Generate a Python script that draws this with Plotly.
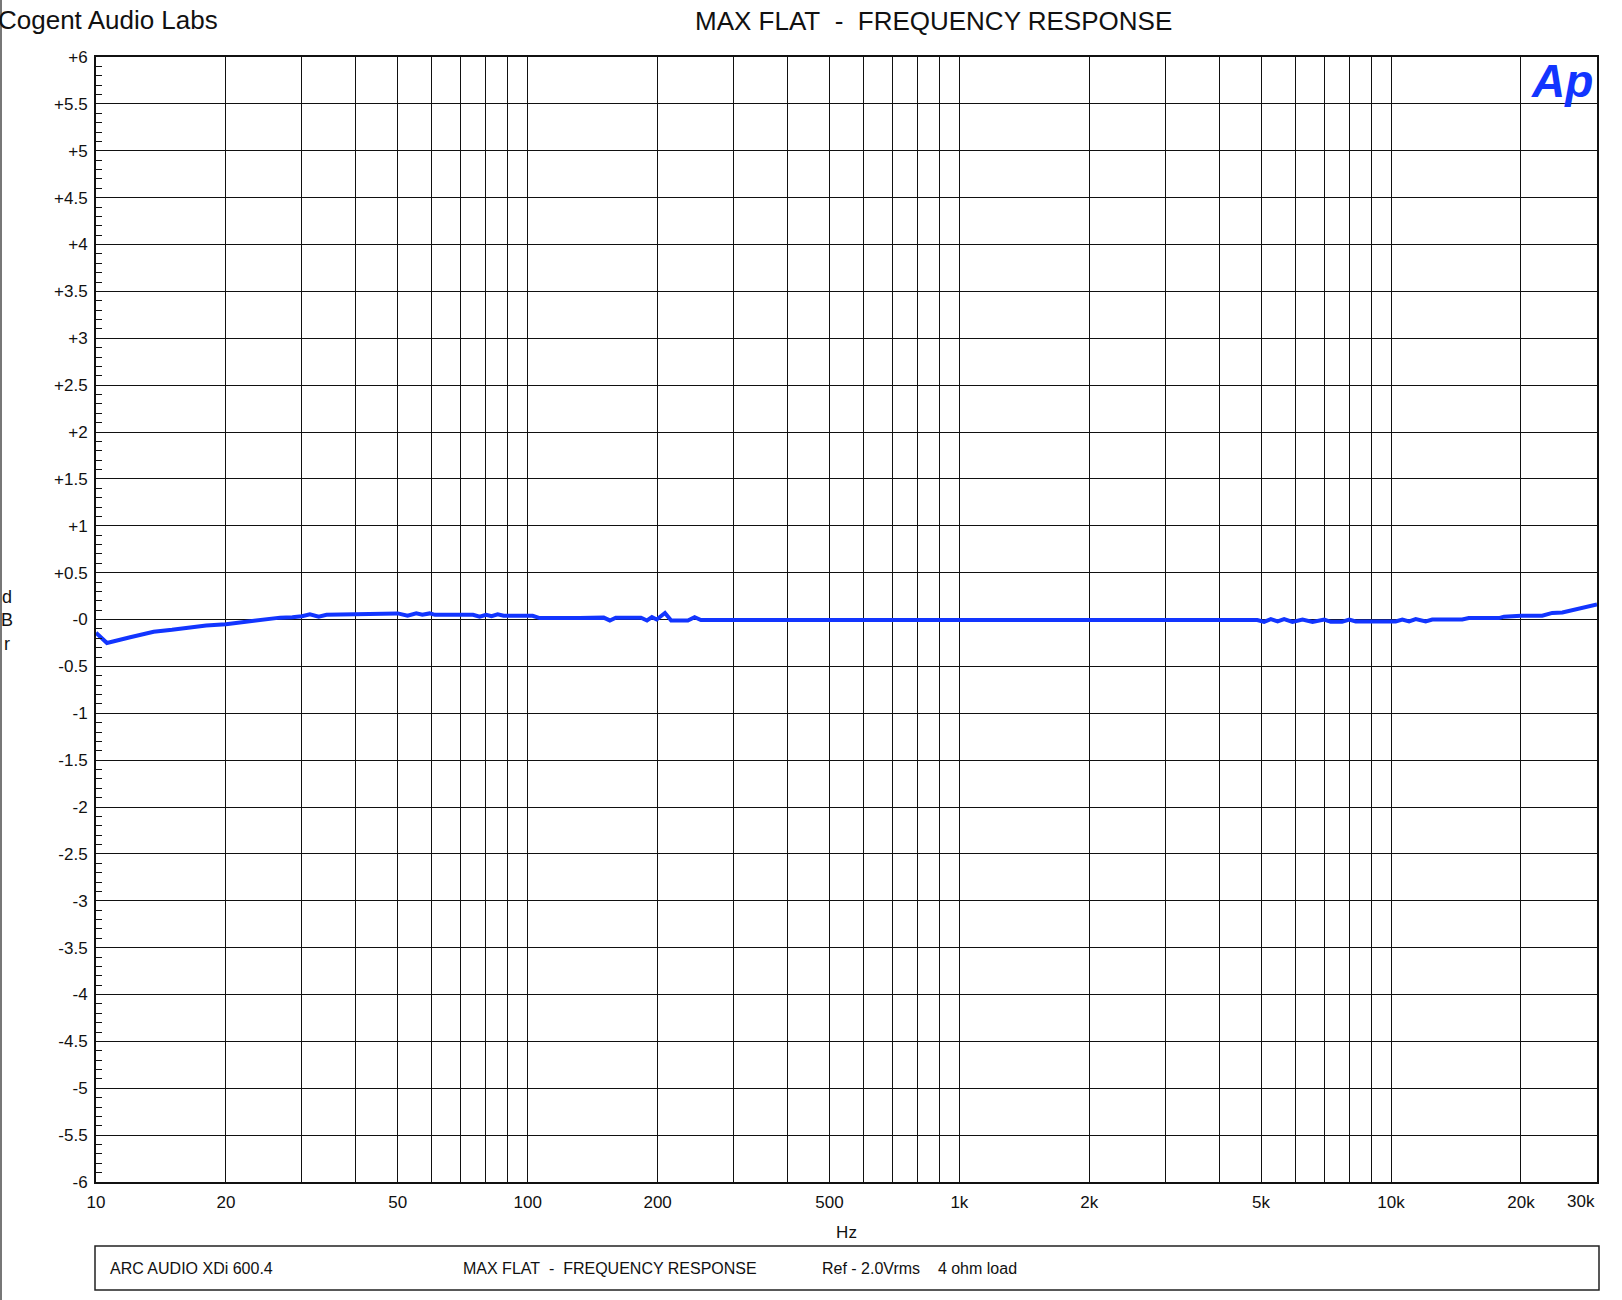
import math
import plotly.graph_objects as go

# ---- data ----
freq_hz = [10, 10.6, 12, 13.6, 15, 16.5, 18, 20, 21.5, 23.1, 25, 26.7, 28.5, 30, 31.3, 32.8,
           34.2, 38, 41.5, 46, 50, 52.7, 55.2, 57, 59.3, 61, 68, 74.7, 77.4, 80.1, 82.5, 85.2,
           88, 95, 102.7, 106.6, 118.6, 131.9, 150, 155, 160, 183, 189, 194, 199, 208, 215,
           235, 243.6, 252, 300, 500, 1000, 2000, 4900, 5080, 5266, 5460, 5654, 5912, 6237,
           6580, 7000, 7250, 7700, 8000, 8283, 9000, 10250, 10620, 11010, 11410, 12030, 12460,
           14620, 15140, 17770, 18270, 20000, 22400, 23630, 24940, 26310, 27240, 30000]
level_dbr = [-0.14, -0.25, -0.19, -0.13, -0.11, -0.08, -0.063, -0.05, -0.03, -0.01, 0.005, 0.02,
             0.025, 0.035, 0.055, 0.03, 0.05, 0.055, 0.065, 0.065, 0.065, 0.04, 0.065, 0.05,
             0.065, 0.05, 0.05, 0.05, 0.03, 0.05, 0.035, 0.055, 0.04, 0.04, 0.04, 0.015, 0.02,
             0.015, 0.02, -0.01, 0.02, 0.02, -0.01, 0.025, 0.0, 0.07, -0.01, -0.01, 0.025,
             -0.005, -0.005, -0.005, -0.005, -0.005, -0.005, -0.025, 0.005, -0.02, 0.005,
             -0.025, 0.0, -0.025, 0.0, -0.025, -0.025, 0.0, -0.02, -0.02, -0.02, 0.0, -0.02,
             0.005, -0.02, 0.0, 0.0, 0.015, 0.015, 0.03, 0.04, 0.04, 0.07, 0.075, 0.10, 0.11, 0.16]

x_grid_vals = [m * d for d in (10, 100, 1000, 10000) for m in range(1, 10)] + [20000, 30000]
x_grid_vals = sorted(set(v for v in x_grid_vals if 10 <= v <= 30000))
x_label_map = {10: "10", 20: "20", 50: "50", 100: "100", 200: "200", 500: "500",
               1000: "1k", 2000: "2k", 5000: "5k", 10000: "10k", 20000: "20k"}
x_tick_text = [x_label_map.get(v, "") for v in x_grid_vals]

y_tick_vals = [i * 0.5 for i in range(-12, 13)]
y_tick_text = ["+6", "+5.5", "+5", "+4.5", "+4", "+3.5", "+3", "+2.5", "+2", "+1.5", "+1", "+0.5",
               "-0", "-0.5", "-1", "-1.5", "-2", "-2.5", "-3", "-3.5", "-4", "-4.5", "-5", "-5.5", "-6"][::-1]

# ---- layout geometry ----
W, H = 1622, 1300
L, R, T, B = 96, 25, 57, 118
PW, PH = W - L - R, H - T - B

def px(xp):
    return (xp - L) / PW

def py(yp):
    return (H - B - yp) / PH

FONT = "Liberation Sans, Arial, sans-serif"
BLUE = "#1235ff"

fig = go.Figure()
fig.add_trace(go.Scatter(x=freq_hz, y=level_dbr, mode="lines",
                         line=dict(color=BLUE, width=4), showlegend=False,
                         hoverinfo="x+y"))

fig.update_xaxes(type="log", range=[1, math.log10(30000)],
                 tickvals=x_grid_vals, ticktext=x_tick_text,
                 showgrid=True, gridcolor="#111", gridwidth=1,
                 showline=True, linecolor="#111", linewidth=2, mirror=True,
                 ticks="", ticklabelstandoff=4,
                 tickfont=dict(family=FONT, size=17, color="#111"),
                 title=dict(text="Hz", font=dict(family=FONT, size=17, color="#111"), standoff=15),
                 zeroline=False, fixedrange=True)
fig.update_yaxes(range=[-6, 6], tickvals=y_tick_vals, ticktext=y_tick_text,
                 showgrid=True, gridcolor="#111", gridwidth=1,
                 showline=True, linecolor="#111", linewidth=2, mirror=True,
                 ticks="inside", ticklen=6, tickcolor="#111", tickwidth=1,
                 ticklabelstandoff=3,
                 minor=dict(dtick=0.1, ticks="inside", ticklen=6, tickcolor="#111",
                            tickwidth=1, showgrid=False),
                 tickfont=dict(family=FONT, size=17, color="#111"),
                 zeroline=False, fixedrange=True)

annotations = [
    dict(text="Cogent Audio Labs", x=px(220), y=py(20), xref="paper", yref="paper",
         xanchor="right", yanchor="middle", showarrow=False,
         font=dict(family=FONT, size=26, color="#111")),
    dict(text="MAX FLAT\u00a0\u00a0-\u00a0\u00a0FREQUENCY RESPONSE", x=px(933), y=py(21),
         xref="paper", yref="paper", xanchor="center", yanchor="middle", showarrow=False,
         font=dict(family=FONT, size=26, color="#111")),
    dict(text="<b><i>Ap</i></b>", x=px(1595), y=py(81), xref="paper", yref="paper",
         xanchor="right", yanchor="middle", showarrow=False,
         font=dict(family=FONT, size=46, color=BLUE)),
    dict(text="d<br>B<br>r", x=px(7), y=py(620), xref="paper", yref="paper",
         xanchor="center", yanchor="middle", showarrow=False,
         font=dict(family=FONT, size=18, color="#111")),
    dict(text="30k", x=math.log10(30000), y=py(1202), xref="x", yref="paper",
         xanchor="right", yanchor="middle", showarrow=False,
         font=dict(family=FONT, size=17, color="#111")),
    dict(text="ARC AUDIO XDi 600.4", x=px(108), y=py(1268), xref="paper", yref="paper",
         xanchor="left", yanchor="middle", showarrow=False,
         font=dict(family=FONT, size=16, color="#111")),
    dict(text="MAX FLAT\u00a0\u00a0-\u00a0\u00a0FREQUENCY RESPONSE", x=px(461), y=py(1268),
         xref="paper", yref="paper", xanchor="left", yanchor="middle", showarrow=False,
         font=dict(family=FONT, size=16, color="#111")),
    dict(text="Ref - 2.0Vrms\u00a0\u00a0\u00a0\u00a04 ohm load", x=px(820), y=py(1268),
         xref="paper", yref="paper", xanchor="left", yanchor="middle", showarrow=False,
         font=dict(family=FONT, size=16, color="#111")),
]

shapes = [
    dict(type="rect", xref="paper", yref="paper", x0=px(95), x1=px(1599), y0=py(1290), y1=py(1246),
         line=dict(color="#222", width=1.5), fillcolor="rgba(0,0,0,0)"),
    dict(type="line", xref="paper", yref="paper", x0=px(1), x1=px(1), y0=py(0), y1=py(1300),
         line=dict(color="#777", width=2)),
]

fig.update_layout(width=W, height=H, autosize=False,
                  margin=dict(l=L, r=R, t=T, b=B, pad=0),
                  paper_bgcolor="white", plot_bgcolor="white",
                  annotations=annotations, shapes=shapes,
                  font=dict(family=FONT, color="#111"))

fig.write_html("out.html", config={"displayModeBar": False},
               post_script="document.body.style.margin='0';document.body.style.overflow='hidden';")
